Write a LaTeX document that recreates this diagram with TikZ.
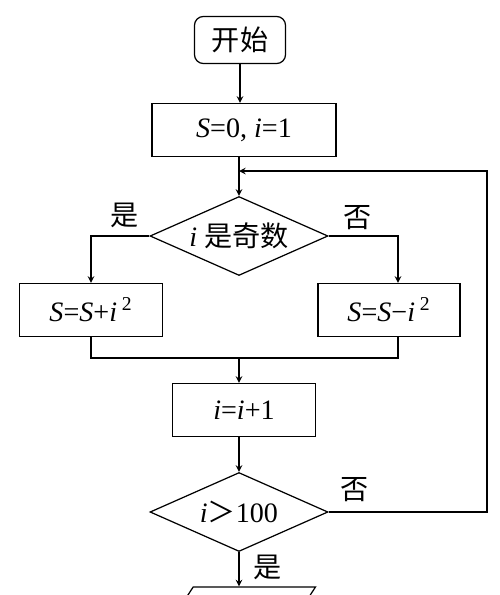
\documentclass[tikz,border=0pt]{standalone}
\usepackage{fontspec}
\setmainfont{Liberation Serif}
\newfontfamily\cjk{Noto Sans CJK SC}
\usetikzlibrary{shapes.geometric}

\begin{document}
\begin{tikzpicture}[x=0.02cm, y=-0.02cm, >=stealth, line width=0.7pt,
    font=\fontsize{16}{19}\selectfont,
    startbox/.style={draw, rounded corners=5pt, minimum width=1.82cm, minimum height=0.94cm, inner sep=0pt},
    procbox/.style={draw, minimum height=1.06cm, inner sep=0pt},
    decision/.style={draw, diamond, aspect=2.25, minimum width=3.56cm, minimum height=1.58cm, inner sep=0pt},
    iobox/.style={draw, trapezium, trapezium left angle=70, trapezium right angle=110,
        trapezium stretches=true, minimum width=3.1cm, minimum height=1cm}]
    \useasboundingbox (0,0) rectangle (500,595);
    \clip (0,0) rectangle (500,595);

    % Start and init
    \node[startbox] (start) at (240,40) {\cjk 开始};
    \node[procbox, minimum width=3.68cm] (init) at (244,130) {\textit{S}=0, \textit{i}=1};
    \coordinate (join) at (239,171);

    % Odd test
    \node[decision] (odd) at (239,236) {\textit{i} {\cjk 是奇数}};
    \node[procbox, minimum width=2.86cm] (plus) at (91,310) {\textit{S}=\textit{S}+\textit{i}\,\textsuperscript{2}};
    \node[procbox, minimum width=2.84cm] (minus) at (389,310) {\textit{S}=\textit{S}−\textit{i}\,\textsuperscript{2}};
    \coordinate (merge) at (239,358);

    % Step and stop test
    \node[procbox, minimum width=2.86cm] (inc) at (244,410) {\textit{i}=\textit{i}+1};
    \node[decision] (stop) at (239,512) {\textit{i}{\cjk ＞}100};
    \node[iobox] (out) at (238,612) {};
    \coordinate (loop) at (487,171);

    % Labels
    \node (yes1) at (125,215) {\cjk 是};
    \node (no1) at (358,218) {\cjk 否};
    \node (no2) at (355,490) {\cjk 否};
    \node (yes2) at (268,567) {\cjk 是};

    % Flow
    \draw[->] (start) -- (start |- init.north);
    \draw (init.south -| join) -- (join);
    \draw[->] (join) -- (odd);
    \draw[->] (odd.west) -| (plus);
    \draw[->] (odd.east) -| ([xshift=0.18cm]minus.north);
    \draw (plus.south) |- (merge) -| ([xshift=0.18cm]minus.south);
    \draw[->] (merge) -- (inc.north -| merge);
    \draw[->] (inc.south -| merge) -- (stop);
    \draw[->] (stop.east) -| (loop) -- (join);
    \draw[->] (stop.south) -- (stop.south |- out.north);
\end{tikzpicture}
\end{document}
